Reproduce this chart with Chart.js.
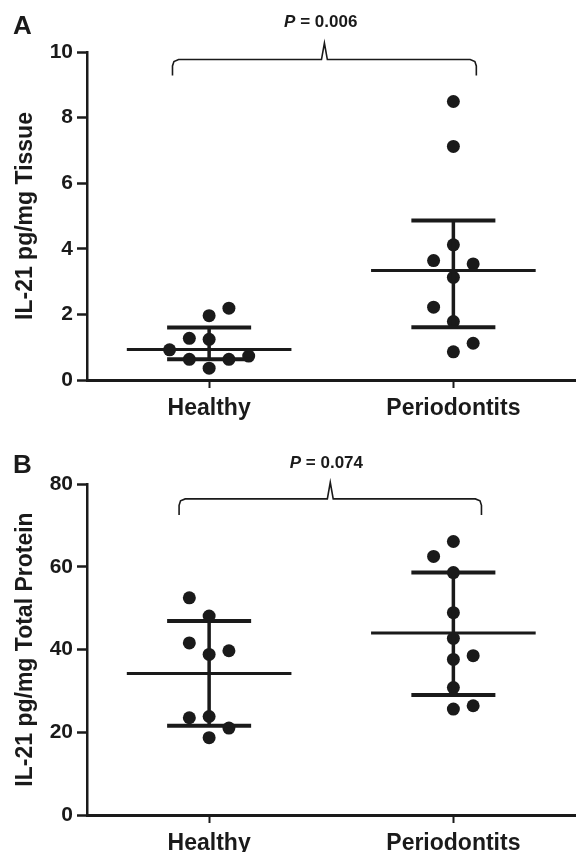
<!DOCTYPE html>
<html>
<head>
<meta charset="utf-8">
<script src="https://cdn.jsdelivr.net/npm/chart.js@4.4.1/dist/chart.umd.min.js"></script>
<style>
  body { margin: 0; background: #fff; }
  canvas { display: block; }
</style>
</head>
<body>
<canvas id="chartA" width="582" height="420"></canvas>
<canvas id="chartB" width="582" height="432"></canvas>
<script>
// IL-21 in gingival tissue: healthy vs periodontitis

const groups = ['Healthy', 'Periodontits'];
const groupX = [0, 1];

// Panel A - pg/mg tissue
const healthyA = [2.19, 1.96, 1.27, 1.24, 0.92, 0.63, 0.63, 0.73, 0.36];
const healthyAJitter = [1, 0, -1, 0, -2, -1, 1, 2, 0];
const perioA = [8.49, 7.12, 4.12, 3.64, 3.54, 3.13, 2.22, 1.78, 1.12, 0.86];
const perioAJitter = [0, 0, 0, -1, 1, 0, -1, 0, 1, 0];
const centerA = [0.93, 3.34];
const upperA = [1.60, 4.86];
const lowerA = [0.63, 1.61];
const yTicksA = [0, 10, 2];       // min, max, step
const bracketXA = [-0.150, 0.472, 1.094];  // left, tip, right
const bracketYA = [9.28, 9.77, 10.27];     // foot, bar, tip

// Panel B - pg/mg total protein
const healthyB = [52.5, 48.1, 41.6, 38.8, 39.7, 23.5, 23.8, 21.0, 18.7];
const healthyBJitter = [-1, 0, -1, 0, 1, -1, 0, 1, 0];
const perioB = [66.1, 62.5, 58.6, 48.9, 42.7, 37.6, 38.5, 30.8, 25.6, 26.4];
const perioBJitter = [0, -1, 0, 0, 0, 0, 1, 0, 0, 1];
const centerB = [34.2, 44.0];
const upperB = [46.9, 58.6];
const lowerB = [21.6, 29.0];
const yTicksB = [0, 80, 20];
const bracketXB = [-0.123, 0.496, 1.115];
const bracketYB = [72.5, 76.4, 80.4];

const pValues = ['0.006', '0.074'];
const pTextX = [0.457, 0.48];
const pTextY = [10.9, 85.1];

const INK = '#1a1a1a';
const FONT = "'Liberation Sans', Arial, sans-serif";
Chart.defaults.font.family = FONT;

// one dot column for a group
function dots(values, jitter, gx) {
    return {
        data: values.map((v, i) => ({ x: gx + jitter[i] * 0.081, y: v })),
        pointRadius: 6.5,
        pointBackgroundColor: INK,
        pointBorderWidth: 0,
        showLine: false
    };
}

function line(points, width) {
    return {
        data: points,
        showLine: true,
        borderColor: INK,
        borderWidth: width,
        pointRadius: 0,
        clip: false
    };
}

// centre line + error bar for each group
function summaryLines(center, upper, lower) {
    let sets = [];
    groupX.forEach(function(gx, i) {
        sets.push(line([{ x: gx - 0.337, y: center[i] }, { x: gx + 0.337, y: center[i] }], 3));
        sets.push(line([{ x: gx - 0.172, y: upper[i] }, { x: gx + 0.172, y: upper[i] }], 4));
        sets.push(line([{ x: gx - 0.172, y: lower[i] }, { x: gx + 0.172, y: lower[i] }], 4));
        sets.push(line([{ x: gx, y: upper[i] }, { x: gx, y: lower[i] }], 3.5));
    });
    return sets;
}

// significance bracket
function bracket(xs, ys) {
    let [l, m, r] = xs, [foot, bar, tip] = ys;
    let h = bar - foot;
    return line([
        { x: l, y: foot }, { x: l, y: bar - 0.4 * h }, { x: l + 0.006, y: bar - 0.12 * h }, { x: l + 0.025, y: bar },
        { x: m - 0.012, y: bar }, { x: m, y: tip }, { x: m + 0.012, y: bar },
        { x: r - 0.025, y: bar }, { x: r - 0.006, y: bar - 0.12 * h }, { x: r, y: bar - 0.4 * h }, { x: r, y: foot }
    ], 1.6);
}

// panel letter and P value text
const panelText = {
    id: 'panelText',
    afterDraw(chart, args, opts) {
        let ctx = chart.ctx;
        let cx = chart.scales.x.getPixelForValue(opts.pX);
        let cy = chart.scales.y.getPixelForValue(opts.pY);
        ctx.save();
        ctx.fillStyle = INK;
        ctx.textAlign = 'left';
        ctx.textBaseline = 'alphabetic';
        ctx.font = 'bold 26px ' + FONT;
        ctx.fillText(opts.letter, 13, opts.letterBase);

        let rest = ' = ' + opts.pValue;
        ctx.font = 'italic bold 17px ' + FONT;
        let w1 = ctx.measureText('P').width;
        ctx.font = 'bold 17px ' + FONT;
        let w2 = ctx.measureText(rest).width;
        let x0 = cx - (w1 + w2) / 2;
        ctx.textBaseline = 'middle';
        ctx.font = 'italic bold 17px ' + FONT;
        ctx.fillText('P', x0, cy);
        ctx.font = 'bold 17px ' + FONT;
        ctx.fillText(rest, x0 + w1, cy);
        ctx.restore();
    }
};

function makePanel(id, cfg) {
    let datasets = [].concat(
        summaryLines(cfg.center, cfg.upper, cfg.lower),
        [bracket(cfg.bx, cfg.by)],
        [dots(cfg.healthy, cfg.healthyJitter, groupX[0]), dots(cfg.perio, cfg.perioJitter, groupX[1])]
    );
    return new Chart(document.getElementById(id), {
        type: 'scatter',
        data: { datasets: datasets },
        plugins: [panelText],
        options: {
            responsive: false,
            animation: false,
            layout: { padding: { top: cfg.top, left: 0, right: 0, bottom: 0 } },
            plugins: {
                legend: { display: false },
                tooltip: { enabled: false },
                panelText: { letter: cfg.letter, letterBase: cfg.letterBase, pValue: cfg.pValue, pX: cfg.pX, pY: cfg.pY }
            },
            scales: {
                x: {
                    type: 'linear',
                    min: -0.5,
                    max: 1.5,
                    afterBuildTicks: s => { s.ticks = groupX.map(v => ({ value: v })); },
                    afterFit: s => { s.height = cfg.xHeight; },
                    ticks: {
                        callback: v => groups[groupX.indexOf(v)],
                        font: { size: 23, weight: 'bold' },
                        color: INK,
                        padding: 7,
                        autoSkip: false,
                        maxRotation: 0
                    },
                    grid: { drawOnChartArea: false, tickLength: 8, tickWidth: 2, tickColor: INK },
                    border: { color: INK, width: 3 }
                },
                y: {
                    min: cfg.yTicks[0],
                    max: cfg.yTicks[1],
                    afterFit: s => { s.width = 87; },
                    ticks: {
                        stepSize: cfg.yTicks[2],
                        font: { size: 21, weight: 'bold' },
                        color: INK,
                        padding: 4
                    },
                    grid: { drawOnChartArea: false, tickLength: 10, tickWidth: 2.5, tickColor: INK },
                    border: { color: INK, width: 2.5 },
                    title: {
                        display: true,
                        text: cfg.yTitle,
                        font: { size: 23, weight: 'bold' },
                        color: INK,
                        padding: { top: 12, bottom: 0 }
                    }
                }
            }
        }
    });
}

makePanel('chartA', {
    healthy: healthyA, healthyJitter: healthyAJitter,
    perio: perioA, perioJitter: perioAJitter,
    center: centerA, upper: upperA, lower: lowerA,
    bx: bracketXA, by: bracketYA,
    yTicks: yTicksA, yTitle: 'IL-21 pg/mg Tissue',
    letter: 'A', letterBase: 34,
    pValue: pValues[0], pX: pTextX[0], pY: pTextY[0],
    top: 52, xHeight: 40
});

makePanel('chartB', {
    healthy: healthyB, healthyJitter: healthyBJitter,
    perio: perioB, perioJitter: perioBJitter,
    center: centerB, upper: upperB, lower: lowerB,
    bx: bracketXB, by: bracketYB,
    yTicks: yTicksB, yTitle: 'IL-21 pg/mg Total Protein',
    letter: 'B', letterBase: 53,
    pValue: pValues[1], pX: pTextX[1], pY: pTextY[1],
    top: 64, xHeight: 37
});
</script>
</body>
</html>
